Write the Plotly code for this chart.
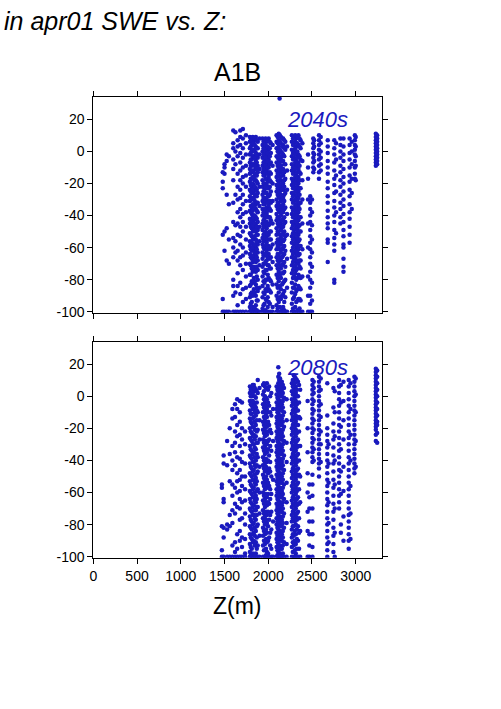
import plotly.graph_objects as go

W, H = 501, 709
FONT = "Liberation Sans"
BLUE = "#1a1abe"

# ---------------- data: 2040s ----------------
z_2040 = [1480, 1500, 1525, 1550, 1600, 1625, 1650, 1680, 1710, 1745,
          1790, 1812, 1835, 1858, 1880, 1900,
          1935, 1958, 1982, 2005, 2030, 2050,
          2095, 2120, 2145, 2170, 2195, 2215,
          2270, 2295, 2320, 2345, 2370, 2390,
          2455, 2480, 2500, 2515, 2525, 2580, 2600,
          2680, 2755, 2775, 2825, 2860, 2930, 2955, 2990, 3000, 3230, 3245,
          2130,
          1800, 1823, 1846, 1869,
          1946, 1970, 1994, 2018,
          2108, 2133, 2158, 2183,
          2283, 2308, 2333, 2358]
swe_2040 = [
    [-13, -19, -23, -52, -92, -100],
    [-10, -14, -8, -50, -62, -100],
    [-6, -2, -27, -48, -68, -100],
    [-3, -33, -55, -70, -100],
    [13, 5, 2, -5, -11, -18, -32, -44, -54, -60, -66, -80, -84, -90, -100],
    [12, 0, -8, -27, -46, -56, -63, -88, -100],
    [7, 3, -3, -14, -22, -30, -38, -45, -52, -62, -68, -76, -84, -96, -100],
    [13, 9, 4, -1, -7, -12, -18, -24, -29, -36, -41, -47, -53, -58, -66, -71, -82, -89, -100],
    [14, 8, 2, -4, -10, -16, -20, -27, -33, -39, -44, -50, -60, -65, -74, -86, -94, -100],
    [10, 5, -2, -9, -15, -22, -31, -38, -47, -55, -63, -70, -78, -85, -92, -100],
    [9, 6, 2, -2, -7, -11, -14, -19, -24, -28, -31, -37, -42, -45, -51, -56, -59, -64, -70, -77, -84, -91, -97, -100],
    [8, 4, 0, -5, -9, -13, -17, -22, -26, -30, -35, -39, -44, -48, -53, -57, -62, -67, -73, -81, -88, -94, -100],
    [7, 5, 1, -3, -8, -12, -16, -21, -25, -29, -34, -40, -43, -47, -54, -58, -61, -66, -72, -79, -86, -99, -100],
    [9, 3, -1, -6, -10, -15, -18, -23, -27, -33, -36, -41, -46, -50, -55, -60, -65, -69, -75, -83, -90, -96, -100],
    [6, 2, -4, -9, -13, -20, -26, -32, -38, -44, -49, -52, -58, -63, -68, -74, -80, -87, -93, -100],
    [8, -2, -11, -22, -34, -47, -56, -71, -85, -100],
    [8, 4, 0, -4, -9, -13, -18, -22, -27, -31, -36, -40, -45, -49, -54, -58, -63, -67, -72, -78, -84, -91, -98, -100],
    [7, 3, -2, -6, -11, -15, -20, -24, -29, -33, -38, -42, -47, -51, -56, -61, -65, -70, -76, -82, -89, -95, -100],
    [6, 2, -3, -8, -12, -17, -21, -26, -30, -35, -39, -44, -48, -53, -57, -62, -68, -74, -80, -87, -93, -100],
    [8, 1, -5, -10, -16, -23, -28, -34, -41, -46, -52, -59, -64, -71, -79, -86, -94, -100],
    [5, -1, -7, -14, -19, -25, -32, -37, -43, -50, -55, -60, -66, -73, -81, -88, -100],
    [4, -9, -20, -31, -45, -58, -69, -83, -97, -100],
    [10, 6, 2, -3, -7, -12, -16, -21, -25, -30, -34, -39, -43, -48, -52, -57, -61, -66, -71, -77, -83, -90, -96, -100],
    [11, 7, 3, -1, -5, -10, -14, -19, -23, -28, -32, -37, -41, -46, -50, -55, -59, -64, -69, -75, -81, -88, -94, -100],
    [9, 5, 0, -4, -9, -13, -18, -22, -27, -31, -36, -40, -45, -49, -54, -58, -63, -68, -73, -79, -86, -92, -100],
    [8, 4, -2, -6, -11, -15, -20, -24, -29, -33, -38, -42, -47, -51, -56, -60, -65, -70, -76, -82, -89, -97, -100],
    [6, 1, -8, -17, -26, -35, -44, -53, -62, -72, -80, -91, -100],
    [3, -12, -24, -39, -52, -67, -85, -100],
    [10, 6, 1, -3, -8, -12, -17, -21, -26, -30, -35, -39, -44, -48, -53, -57, -62, -66, -71, -76, -82, -88, -95, -100],
    [9, 5, 0, -4, -9, -13, -18, -22, -27, -31, -36, -40, -45, -49, -54, -58, -63, -67, -72, -78, -85, -91, -100],
    [8, 3, -1, -6, -10, -15, -19, -24, -28, -33, -37, -42, -46, -51, -55, -60, -64, -69, -74, -80, -87, -94, -100],
    [10, 4, -2, -7, -11, -16, -20, -25, -29, -34, -38, -43, -47, -52, -56, -61, -65, -70, -77, -84, -92, -100],
    [7, 2, -5, -14, -23, -32, -41, -50, -59, -68, -73, -79, -86, -93, -100],
    [5, -6, -18, -30, -45, -61, -78, -100],
    [-2, -10, -17, -30, -45, -60, -78, -90, -100],
    [-28, -32, -36, -40, -44, -49, -53, -57, -61, -66, -70, -75, -80, -85, -90, -95, -100],
    [-30, -38, -46, -55, -63, -72, -82, -93, -100],
    [8, 5, 2, -1, -4, -7, -10, -13],
    [7, 3, -2, -6, -11],
    [10, 7, 4, 1, -2, -5, -9, -13, -17],
    [9, 5, 0, -4, -8, -12],
    [7, 3, -1, -6, -10, -14, -19, -23, -28, -32, -37, -41, -45, -48, -55, -57, -69],
    [7, 2, -2, -7, -12, -17, -21, -26, -31, -35, -40, -44, -49, -54, -58, -62, -80, -82],
    [5, -5, -15, -25, -38, -51],
    [8, 4, 0, -4, -9, -13, -18, -22, -27, -32, -36, -41, -45],
    [8, 3, -2, -6, -11, -16, -20, -25, -30, -34, -39, -44, -49, -53, -58, -60, -67, -72, -75],
    [8, 4, -1, -5, -10, -15, -19, -24, -28, -33, -38, -42, -47, -52, -57],
    [6, 0, -8, -17, -26, -36],
    [10, 7, 4, 1, -2, -6, -10, -14, -17],
    [9, 3, -3, -9, -18],
    [11, 9, 7, 5, 3, 1, -1, -3, -5, -7, -9],
    [10, 8, 6, 4, 2, 0, -2, -4, -6, -8],
    [33],
    [7, 3, -1, -5, -9, -13, -17, -21, -25, -30, -34, -38, -43, -47, -52, -57, -61, -66, -71, -77, -83, -89, -95, -99],
    [9, 5, 1, -3, -8, -12, -16, -20, -24, -29, -33, -37, -41, -46, -50, -55, -60, -65, -69, -75, -82, -90, -97],
    [8, 4, 0, -4, -9, -14, -18, -22, -27, -31, -35, -40, -45, -49, -53, -58, -63, -68, -74, -81, -88, -98],
    [7, 2, -2, -7, -11, -15, -19, -24, -28, -32, -37, -42, -47, -52, -56, -61, -66, -72, -78, -85, -93, -99],
    [6, 2, -2, -7, -11, -15, -20, -25, -29, -33, -38, -43, -47, -52, -56, -60, -65, -70, -75, -81, -88, -96],
    [8, 4, 0, -4, -9, -13, -17, -22, -26, -31, -36, -40, -45, -50, -54, -59, -64, -69, -74, -80, -86, -92, -99],
    [7, 3, -1, -6, -10, -14, -19, -23, -28, -32, -37, -41, -46, -51, -55, -60, -66, -71, -77, -84, -91, -97],
    [6, 2, -3, -8, -13, -18, -22, -27, -31, -36, -41, -45, -50, -55, -61, -67, -73, -80, -87, -95],
    [9, 5, 0, -4, -9, -14, -18, -23, -27, -32, -36, -41, -45, -50, -55, -59, -64, -68, -73, -79, -85, -92, -98],
    [10, 6, 1, -3, -7, -12, -16, -21, -25, -29, -34, -38, -43, -47, -52, -57, -61, -66, -71, -77, -84, -91, -97],
    [8, 3, -1, -6, -11, -15, -20, -24, -29, -34, -38, -43, -47, -52, -56, -61, -66, -71, -76, -83, -90, -99],
    [7, 2, -3, -8, -13, -18, -22, -27, -31, -36, -41, -45, -50, -55, -59, -64, -69, -75, -81, -87, -94, -99],
    [8, 4, -1, -5, -10, -14, -19, -23, -28, -32, -37, -41, -46, -51, -55, -60, -64, -69, -74, -79, -85, -92, -98],
    [10, 6, 2, -2, -7, -11, -16, -20, -25, -30, -34, -39, -43, -48, -52, -57, -62, -66, -71, -76, -83, -89, -97],
    [9, 5, 0, -4, -8, -13, -17, -22, -27, -31, -36, -40, -45, -49, -54, -58, -63, -68, -73, -79, -86, -93, -99],
    [8, 3, -3, -9, -13, -18, -23, -27, -32, -36, -41, -46, -50, -55, -59, -64, -68, -72, -78, -85, -92, -98],
]

# ---------------- data: 2080s ----------------
z_2080 = [1470, 1490, 1530, 1560, 1590, 1620, 1645, 1675, 1700, 1735,
          1790, 1812, 1835, 1858, 1880, 1900,
          1940, 1962, 1985, 2010, 2035, 2055,
          2095, 2115, 2135, 2155, 2180, 2210,
          2270, 2292, 2315, 2340, 2365,
          2450, 2470, 2505, 2520, 2580, 2600,
          2675, 2690, 2745, 2760, 2810, 2830, 2860, 2920, 2940, 2985, 3000,
          3230, 3245,
          1800, 1823, 1846, 1869,
          1951, 1974, 1998, 2022,
          2105, 2125, 2145, 2167,
          2281, 2303, 2327, 2352]
swe_2080 = [
    [-55, -57, -81, -96, -100],
    [-42, -37, -64, -66, -82, -88, -100],
    [-28, -43, -80, -83, -100],
    [-20, -36, -53, -74, -81, -100],
    [-8, -14, -31, -40, -46, -55, -62, -71, -79, -93, -100],
    [-5, -13, -22, -29, -35, -43, -57, -67, -73, -91, -97, -100],
    [-2, -8, -18, -25, -38, -48, -53, -60, -69, -86, -95, -100],
    [-3, -10, -16, -24, -31, -39, -46, -52, -59, -64, -70, -77, -84, -90, -100],
    [-4, -20, -27, -35, -41, -50, -56, -66, -76, -88, -94, -100],
    [-22, -30, -42, -50, -58, -65, -73, -80, -89, -98, -100],
    [6, 2, -3, -9, -14, -20, -26, -31, -37, -42, -48, -53, -59, -64, -70, -75, -81, -86, -92, -97, -100],
    [5, 0, -6, -11, -17, -23, -28, -34, -39, -45, -50, -56, -61, -67, -72, -78, -83, -89, -95, -100],
    [7, 3, -4, -8, -13, -19, -24, -30, -35, -41, -46, -52, -57, -63, -68, -74, -79, -85, -90, -100],
    [4, -1, -7, -12, -18, -25, -33, -40, -44, -51, -55, -62, -66, -71, -77, -84, -91, -98, -100],
    [10, 2, -10, -21, -29, -38, -47, -58, -69, -80, -93, -100],
    [5, -15, -27, -44, -60, -73, -87, -100],
    [7, 1, -5, -10, -16, -21, -27, -32, -38, -43, -49, -54, -60, -65, -71, -76, -82, -87, -93, -100],
    [6, 0, -4, -9, -15, -20, -25, -31, -36, -42, -47, -53, -58, -64, -69, -75, -80, -86, -92, -100],
    [8, 5, -2, -8, -13, -19, -24, -30, -35, -41, -46, -52, -57, -63, -68, -74, -79, -85, -91, -97, -100],
    [6, -6, -18, -27, -37, -45, -56, -67, -77, -88, -100],
    [2, -12, -23, -34, -50, -61, -72, -83, -95, -100],
    [-8, -28, -52, -78, -100],
    [6, 1, -4, -8, -13, -17, -22, -26, -31, -35, -40, -44, -49, -53, -58, -62, -67, -71, -76, -80, -85, -89, -94, -100],
    [18, 12, 8, 3, -2, -6, -11, -15, -20, -24, -29, -33, -38, -42, -47, -51, -56, -60, -65, -69, -74, -78, -83, -87, -92, -97, -100],
    [11, 7, 2, -3, -7, -12, -16, -21, -25, -30, -34, -39, -43, -48, -52, -57, -61, -66, -70, -75, -79, -84, -88, -93, -98, -100],
    [9, 4, 0, -5, -9, -14, -18, -23, -27, -32, -36, -41, -45, -50, -54, -59, -63, -68, -72, -77, -81, -86, -90, -95, -100],
    [5, -1, -10, -19, -28, -37, -46, -55, -64, -73, -82, -91, -100],
    [-2, -15, -29, -41, -54, -66, -79, -92, -100],
    [8, 3, -2, -6, -11, -15, -20, -24, -29, -33, -38, -42, -47, -51, -56, -60, -65, -69, -74, -78, -83, -88, -94, -100],
    [13, 10, 5, 1, -4, -8, -13, -17, -22, -26, -31, -35, -40, -44, -49, -53, -58, -62, -67, -71, -76, -81, -87, -93, -100],
    [11, 6, 2, -3, -7, -12, -16, -21, -25, -30, -34, -39, -43, -48, -52, -57, -61, -66, -70, -75, -80, -86, -92, -98, -100],
    [9, 0, -9, -18, -27, -36, -45, -54, -63, -72, -81, -90, -100],
    [4, -14, -31, -50, -66, -84, -100],
    [-3, -20, -35, -48, -60, -72, -84, -100],
    [-55, -63, -70, -78, -86, -93, -100],
    [10, 7, 4, 1, -2, -5, -8, -11, -14, -17, -20, -23, -26, -29, -32, -35, -38, -41, -49, -55, -62, -70, -78, -86, -94, -100],
    [9, 5, 2, -3, -9, -15, -21, -27, -33, -40],
    [12, 9, 6, 3, 0, -3, -6, -9, -12, -15, -18, -21, -24, -27, -30, -33, -36, -39, -42, -45, -50],
    [11, 4, -5, -13, -22, -30, -41],
    [8, -12, -20, -24, -28, -32, -36, -40, -44, -48, -52, -56, -60, -64, -68, -72, -76, -80, -84, -88, -92, -96, -100],
    [-30, -42, -54, -66, -79, -91],
    [5, -7, -17, -22, -27, -32, -37, -42, -47, -52, -57, -62, -67, -72, -77, -82, -87, -92, -97],
    [3, -10, -25, -40, -55, -70, -85, -100],
    [10, 6, 2, -2, -6, -10, -14, -18, -22, -26, -30, -34, -38, -42, -46, -50, -54, -58, -62, -66, -70],
    [7, -4, -19, -33, -47, -61, -80, -85],
    [9, -3, -15, -27, -44, -59, -75, -90],
    [10, 6, 2, -2, -6, -10, -14, -18, -22, -26, -30, -34, -38, -42, -46, -50, -54, -58, -62, -66, -70, -74, -78, -82, -86, -90, -95],
    [8, -8, -24, -40, -56, -73, -89],
    [12, 9, 6, 3, 0, -3, -6, -9, -12, -15, -18, -21, -24, -27, -30, -33, -36, -39, -42, -45, -48],
    [11, 1, -10, -28, -44],
    [17, 15, 13, 11, 9, 7, 5, 3, 1, -1, -3, -5, -7, -9, -11, -13, -15, -17, -19, -21, -24, -28],
    [16, 12, 8, 4, 0, -4, -8, -12, -16, -18, -23, -29],
    [4, 0, -5, -11, -16, -22, -27, -33, -38, -44, -49, -55, -60, -66, -71, -77, -82, -88, -94, -99],
    [7, 2, -3, -8, -14, -19, -25, -30, -36, -41, -47, -52, -58, -63, -69, -74, -80, -86, -91, -98],
    [5, 0, -6, -10, -16, -21, -27, -32, -38, -43, -49, -54, -60, -65, -71, -76, -82, -87, -93, -99],
    [3, -4, -9, -15, -22, -29, -36, -43, -48, -53, -59, -64, -69, -74, -81, -88, -95],
    [8, 3, -2, -7, -13, -18, -23, -29, -34, -40, -45, -51, -56, -62, -67, -73, -78, -84, -90, -96],
    [5, -1, -6, -11, -17, -22, -28, -33, -39, -44, -50, -55, -61, -66, -72, -77, -83, -89, -95, -99],
    [4, -4, -10, -16, -22, -28, -33, -40, -48, -54, -61, -66, -72, -81, -90, -98],
    [0, -10, -21, -31, -41, -47, -58, -64, -74, -85, -93],
    [4, -1, -6, -10, -15, -19, -24, -28, -33, -37, -42, -46, -51, -55, -60, -64, -69, -73, -78, -82, -87, -91, -96, -99],
    [14, 10, 5, 1, -4, -8, -13, -17, -22, -26, -31, -35, -40, -44, -49, -53, -58, -62, -67, -71, -76, -80, -85, -89, -94, -98],
    [9, 5, 0, -5, -9, -14, -18, -23, -27, -32, -36, -41, -45, -50, -54, -59, -63, -68, -72, -77, -81, -86, -90, -95, -99],
    [7, 2, -3, -7, -12, -16, -21, -25, -30, -34, -39, -43, -48, -52, -57, -61, -66, -70, -75, -79, -84, -88, -93, -98],
    [10, 6, 1, -4, -9, -13, -18, -22, -27, -31, -36, -40, -45, -49, -54, -58, -63, -67, -72, -76, -81, -86, -91, -97],
    [12, 8, 3, -1, -5, -10, -14, -19, -23, -28, -32, -37, -41, -46, -50, -55, -59, -64, -68, -73, -78, -84, -90, -96],
    [10, 4, 0, -5, -9, -14, -18, -23, -28, -32, -37, -41, -46, -50, -55, -59, -64, -68, -73, -77, -83, -89, -95],
    [7, -4, -13, -22, -31, -40, -49, -58, -67, -76, -85, -95],
]

x_ticks = [0, 500, 1000, 1500, 2000, 2500, 3000]
x_labels = ["0", "500", "1000", "1500", "2000", "2500", "3000"]
y_ticks = [-100, -80, -60, -40, -20, 0, 20]
y_labels = ["-100", "-80", "-60", "-40", "-20", "0", "20"]
period_labels = ["2040s", "2080s"]


def flatten(zs, swes):
    xs, ys = [], []
    for z, vals in zip(zs, swes):
        xs.extend([z] * len(vals))
        ys.extend(vals)
    return xs, ys


x1, y1 = flatten(z_2040, swe_2040)
x2, y2 = flatten(z_2080, swe_2080)

fig = go.Figure()
mk = dict(size=4.5, color=BLUE, line=dict(width=0))
fig.add_trace(go.Scatter(x=x1, y=y1, mode="markers", marker=mk, xaxis="x", yaxis="y",
                         showlegend=False, hoverinfo="skip"))
fig.add_trace(go.Scatter(x=x2, y=y2, mode="markers", marker=mk, xaxis="x2", yaxis="y2",
                         showlegend=False, hoverinfo="skip"))

xd = [93.3 / W, 381.7 / W]
axcommon = dict(showline=True, linecolor="black", linewidth=1, mirror="ticks",
                ticks="outside", ticklen=5, tickwidth=1, tickcolor="black",
                showgrid=False, zeroline=False, automargin=False,
                tickfont=dict(family=FONT, size=14, color="black"))

fig.update_layout(
    width=W, height=H, autosize=False,
    margin=dict(l=0, r=0, t=0, b=0),
    paper_bgcolor="white", plot_bgcolor="white",
    font=dict(family=FONT, color="black"),
    xaxis=dict(domain=xd, range=[0, 3297], tickvals=x_ticks, ticktext=x_labels,
               showticklabels=False, anchor="y", **axcommon),
    yaxis=dict(domain=[1 - 312.7 / H, 1 - 96.7 / H], range=[-100.6, 34.1],
               tickvals=y_ticks, ticktext=y_labels, anchor="x", **axcommon),
    xaxis2=dict(domain=xd, range=[0, 3297], tickvals=x_ticks, ticktext=x_labels,
                anchor="y2", **axcommon),
    yaxis2=dict(domain=[1 - 557.7 / H, 1 - 341.7 / H], range=[-100.6, 33.9],
                tickvals=y_ticks, ticktext=y_labels, anchor="x2", **axcommon),
    annotations=[
        dict(text="<i>in apr01 SWE vs. Z:</i>", xref="paper", yref="paper",
             x=228 / W, y=1 - 21 / H, xanchor="right", yanchor="middle",
             showarrow=False, font=dict(family=FONT, size=25, color="black")),
        dict(text="A1B", xref="paper", yref="paper", x=237.5 / W, y=1 - 72 / H,
             xanchor="center", yanchor="middle", showarrow=False,
             font=dict(family=FONT, size=25, color="black")),
        dict(text="Z(m)", xref="paper", yref="paper", x=237 / W, y=1 - 606 / H,
             xanchor="center", yanchor="middle", showarrow=False,
             font=dict(family=FONT, size=23, color="black")),
        dict(text="<i>" + period_labels[0] + "</i>", xref="x", yref="y", x=2568, y=20,
             xanchor="center", yanchor="middle", showarrow=False,
             font=dict(family=FONT, size=22, color=BLUE)),
        dict(text="<i>" + period_labels[1] + "</i>", xref="x2", yref="y2", x=2568, y=18,
             xanchor="center", yanchor="middle", showarrow=False,
             font=dict(family=FONT, size=22, color=BLUE)),
    ],
)

fig.write_html("out.html", config={"displayModeBar": False},
               post_script="document.body.style.margin='0';")
